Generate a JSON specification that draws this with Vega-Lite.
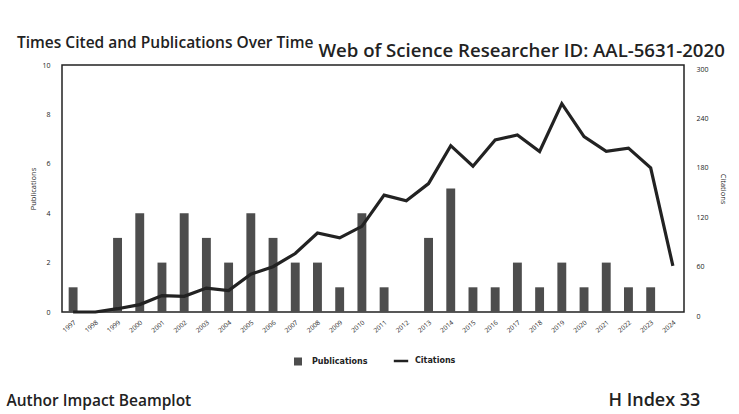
{
  "$schema": "https://vega.github.io/schema/vega-lite/v6.json",
  "width": 622,
  "height": 247,
  "autosize": "none",
  "padding": {"left": 62, "top": 65, "right": 55, "bottom": 102},
  "background": "#ffffff",
  "config": {
    "font": "Open Sans",
    "view": {"stroke": "#222222", "strokeWidth": 1.5}
  },
  "title": {
    "text": "Times Cited and Publications Over Time",
    "anchor": "start",
    "frame": "group",
    "dx": -45,
    "dy": 24,
    "fontSize": 15.5,
    "fontWeight": 600,
    "color": "#222222",
    "offset": 14
  },
  "data": {
    "values": [
      {"year": "1997", "pubs": 1, "cites": 0},
      {"year": "1998", "pubs": 0, "cites": 0},
      {"year": "1999", "pubs": 3, "cites": 4},
      {"year": "2000", "pubs": 4, "cites": 9},
      {"year": "2001", "pubs": 2, "cites": 20},
      {"year": "2002", "pubs": 4, "cites": 19},
      {"year": "2003", "pubs": 3, "cites": 29},
      {"year": "2004", "pubs": 2, "cites": 26},
      {"year": "2005", "pubs": 4, "cites": 46},
      {"year": "2006", "pubs": 3, "cites": 55},
      {"year": "2007", "pubs": 2, "cites": 71},
      {"year": "2008", "pubs": 2, "cites": 96},
      {"year": "2009", "pubs": 1, "cites": 90},
      {"year": "2010", "pubs": 4, "cites": 104},
      {"year": "2011", "pubs": 1, "cites": 142},
      {"year": "2012", "pubs": 0, "cites": 135},
      {"year": "2013", "pubs": 3, "cites": 156},
      {"year": "2014", "pubs": 5, "cites": 202},
      {"year": "2015", "pubs": 1, "cites": 177},
      {"year": "2016", "pubs": 1, "cites": 209},
      {"year": "2017", "pubs": 2, "cites": 215},
      {"year": "2018", "pubs": 1, "cites": 195},
      {"year": "2019", "pubs": 2, "cites": 253},
      {"year": "2020", "pubs": 1, "cites": 213},
      {"year": "2021", "pubs": 2, "cites": 195},
      {"year": "2022", "pubs": 1, "cites": 199},
      {"year": "2023", "pubs": 1, "cites": 175},
      {"year": "2024", "pubs": 0, "cites": 56}
    ]
  },
  "encoding": {
    "x": {
      "field": "year",
      "type": "ordinal",
      "scale": {"paddingInner": 0.6, "paddingOuter": 0.3}
    }
  },
  "layer": [
    {
      "mark": {"type": "bar", "color": "#4d4d4d"},
      "encoding": {
        "x": {
          "field": "year",
          "type": "ordinal",
          "axis": {
            "orient": "bottom",
            "labelAngle": -40,
            "labelFontSize": 6.5,
            "labelColor": "#222222",
            "ticks": false,
            "domain": false,
            "labelPadding": 7,
            "title": "Author Impact Beamplot",
            "titleFontSize": 15.5,
            "titleFontWeight": 600,
            "titleColor": "#222222",
            "titleAnchor": "start",
            "titleAlign": "left",
            "titleBaseline": "alphabetic",
            "titleX": -56,
            "titleY": 93
          }
        },
        "y": {
          "field": "pubs",
          "type": "quantitative",
          "scale": {"domain": [0, 10]},
          "axis": {
            "orient": "left",
            "values": [0, 2, 4, 6, 8, 10],
            "grid": false,
            "ticks": false,
            "domain": false,
            "labelFontSize": 7,
            "labelColor": "#222222",
            "labelPadding": 12,
            "title": "Publications",
            "titleFontSize": 7.5,
            "titleFontWeight": 400,
            "titleColor": "#222222",
            "titlePadding": 4
          }
        },
        "color": {
          "datum": "Publications",
          "type": "nominal",
          "scale": {"domain": ["Publications", "Citations"], "range": ["#4d4d4d", "#222222"]},
          "legend": {
            "orient": "none",
            "direction": "horizontal",
            "legendX": 232,
            "legendY": 292,
            "title": null,
            "labelFont": "DejaVu Sans",
            "labelFontSize": 8,
            "labelFontWeight": "bold",
            "labelColor": "#222222",
            "labelOffset": 10,
            "symbolSize": 64,
            "columnPadding": 20,
            "encode": {
              "symbols": {
                "update": {
                  "shape": {"signal": "datum.value === 'Citations' ? 'M-1.8,0L1.8,0' : 'square'"},
                  "strokeWidth": {"signal": "datum.value === 'Citations' ? 2.5 : 0"},
                  "stroke": {"value": "#222222"}
                }
              }
            }
          }
        }
      }
    },
    {
      "mark": {"type": "line", "color": "#222222", "strokeWidth": 3.2, "strokeJoin": "miter"},
      "encoding": {
        "x": {
          "field": "year",
          "type": "ordinal",
          "axis": {
            "orient": "top",
            "labels": false,
            "ticks": false,
            "domain": false,
            "title": "Web of Science Researcher ID: AAL-5631-2020",
            "titleFontSize": 18.6,
            "titleFontWeight": 600,
            "titleColor": "#222222",
            "titleAnchor": "start",
            "titleAlign": "left",
            "titleBaseline": "alphabetic",
            "titleX": 256,
            "titleY": -9
          }
        },
        "y": {
          "field": "cites",
          "type": "quantitative",
          "scale": {"domain": [0, 300]},
          "axis": {
            "orient": "right",
            "values": [0, 60, 120, 180, 240, 300],
            "grid": false,
            "ticks": false,
            "domain": false,
            "labelFontSize": 7,
            "labelColor": "#222222",
            "labelPadding": 12,
            "labelBaseline": "top",
            "title": "Citations",
            "titleFontSize": 7.5,
            "titleFontWeight": 400,
            "titleColor": "#222222",
            "titlePadding": 10
          }
        },
        "color": {"datum": "Citations", "type": "nominal"}
      }
    },
    {
      "mark": {"type": "bar", "opacity": 0},
      "encoding": {
        "x": {
          "field": "year",
          "type": "ordinal",
          "axis": {
            "orient": "bottom",
            "labels": false,
            "ticks": false,
            "domain": false,
            "title": "H Index 33",
            "titleFontSize": 18,
            "titleFontWeight": 600,
            "titleColor": "#222222",
            "titleAnchor": "start",
            "titleAlign": "left",
            "titleBaseline": "alphabetic",
            "titleX": 546,
            "titleY": 93
          }
        },
        "y": {"field": "pubs", "type": "quantitative", "axis": null}
      }
    }
  ],
  "resolve": {"scale": {"y": "independent"}, "axis": {"x": "independent"}}
}
